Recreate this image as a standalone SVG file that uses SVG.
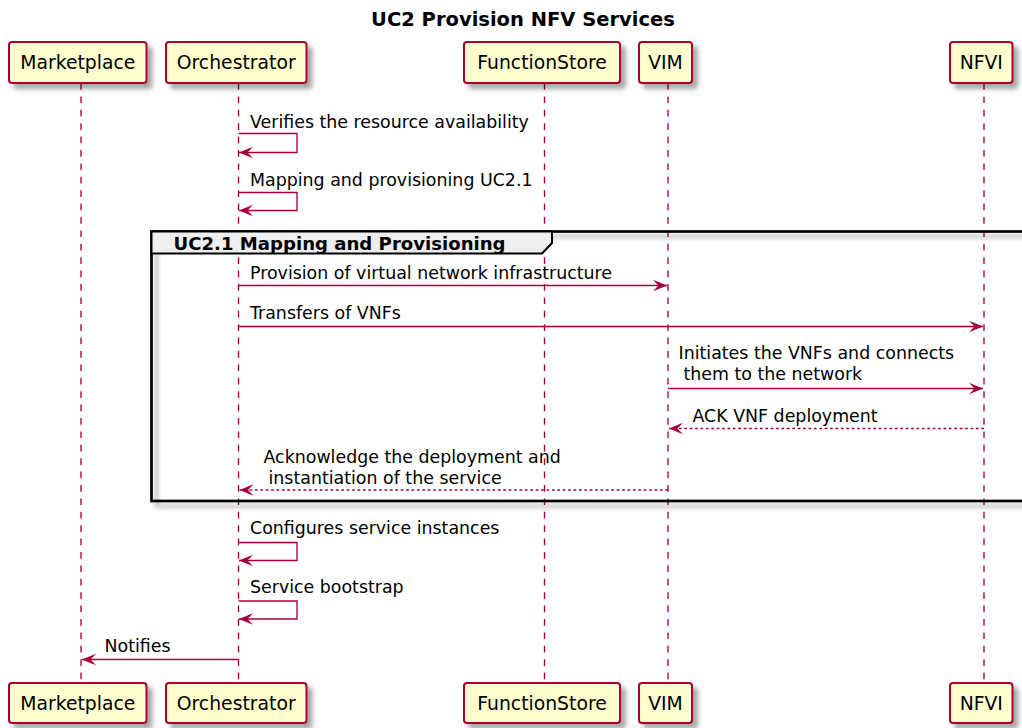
<svg xmlns="http://www.w3.org/2000/svg" width="1022" height="728" viewBox="0 0 1022 728">
<style>
text{font-family:"DejaVu Sans","Liberation Sans",sans-serif;fill:#000}
.msg{font-size:17.4px}
.pt{font-size:18.8px;text-anchor:middle}
.title{font-size:19.5px;font-weight:bold;text-anchor:middle}
.gt{font-size:18.1px;font-weight:bold}
.box{fill:#FEFECE;stroke:#A80036;stroke-width:2}
.life{stroke:#A80036;stroke-width:1.34;stroke-dasharray:6.7,6.7;fill:none}
.arr{stroke:#A80036;stroke-width:1.34;fill:none;marker-end:url(#ah)}
.dash{stroke-dasharray:2.7,2.7}
</style>
<defs>
<filter id="sh" x="-20%" y="-20%" width="150%" height="160%">
<feGaussianBlur in="SourceAlpha" stdDeviation="2.7"/>
<feOffset dx="5" dy="5" result="b"/>
<feComponentTransfer><feFuncA type="linear" slope="0.35"/></feComponentTransfer>
<feMerge><feMergeNode/><feMergeNode in="SourceGraphic"/></feMerge>
</filter>
<marker id="ah" viewBox="-15 -7 16 14" refX="0" refY="0" markerWidth="16" markerHeight="14" markerUnits="userSpaceOnUse" orient="auto">
<path d="M0,0 L-14,-5.8 L-8.5,0 L-14,5.8 Z" fill="#A80036"/>
</marker>
</defs>
<rect width="1022" height="728" fill="#fff"/>
<text class="title" x="523" y="26">UC2 Provision NFV Services</text>

<g id="lifelines">
<line class="life" x1="81" y1="83" x2="81" y2="683"/>
<line class="life" x1="238.5" y1="83" x2="238.5" y2="683"/>
<line class="life" x1="544.5" y1="83" x2="544.5" y2="683"/>
<line class="life" x1="668" y1="83" x2="668" y2="683"/>
<line class="life" x1="984" y1="83" x2="984" y2="683"/>
</g>

<g id="group-uc21">
<rect x="151.5" y="231.5" width="880" height="269.5" fill="none" stroke="#000" stroke-width="2.7" filter="url(#sh)"/>
<path d="M151.5,231.5 L552,231.5 L552,243 L542,253.5 L151.5,253.5 Z" fill="#EEEEEE" stroke="#000" stroke-width="2"/>
<text class="gt" x="173.5" y="249.5">UC2.1 Mapping and Provisioning</text>
</g>

<g id="p-marketplace">
<rect class="box" x="9" y="42" width="137.5" height="41" rx="3" filter="url(#sh)"/>
<text class="pt" x="77.8" y="69">Marketplace</text>
<rect class="box" x="9" y="683" width="137.5" height="40" rx="3" filter="url(#sh)"/>
<text class="pt" x="77.8" y="710">Marketplace</text>
</g>
<g id="p-orchestrator">
<rect class="box" x="166" y="42" width="140.5" height="41" rx="3" filter="url(#sh)"/>
<text class="pt" x="236.2" y="69">Orchestrator</text>
<rect class="box" x="166" y="683" width="140.5" height="40" rx="3" filter="url(#sh)"/>
<text class="pt" x="236.2" y="710">Orchestrator</text>
</g>
<g id="p-functionstore">
<rect class="box" x="464" y="42" width="156" height="41" rx="3" filter="url(#sh)"/>
<text class="pt" x="542" y="69">FunctionStore</text>
<rect class="box" x="464" y="683" width="156" height="40" rx="3" filter="url(#sh)"/>
<text class="pt" x="542" y="710">FunctionStore</text>
</g>
<g id="p-vim">
<rect class="box" x="639" y="42" width="53" height="41" rx="3" filter="url(#sh)"/>
<text class="pt" x="665.5" y="69">VIM</text>
<rect class="box" x="639" y="683" width="53" height="40" rx="3" filter="url(#sh)"/>
<text class="pt" x="665.5" y="710">VIM</text>
</g>
<g id="p-nfvi">
<rect class="box" x="950" y="42" width="62.5" height="41" rx="3" filter="url(#sh)"/>
<text class="pt" x="981.3" y="69">NFVI</text>
<rect class="box" x="950" y="683" width="62.5" height="40" rx="3" filter="url(#sh)"/>
<text class="pt" x="981.3" y="710">NFVI</text>
</g>

<g id="connectors">
<polyline class="arr" points="238.5,133.5 297,133.5 297,152.5 239,152.5"/>
<text class="msg" x="250" y="127.5">Verifies the resource availability</text>
<polyline class="arr" points="238.5,192.5 297,192.5 297,210.5 239,210.5"/>
<text class="msg" x="250" y="186">Mapping and provisioning UC2.1</text>
<line class="arr" x1="238.5" y1="285.5" x2="667" y2="285.5"/>
<text class="msg" x="250" y="278.5">Provision of virtual network infrastructure</text>
<line class="arr" x1="238.5" y1="326.5" x2="983" y2="326.5"/>
<text class="msg" x="250" y="319">Transfers of VNFs</text>
<line class="arr" x1="668" y1="388.5" x2="983" y2="388.5"/>
<text class="msg" x="678.5" y="358.5">Initiates the VNFs and connects</text>
<text class="msg" x="683.5" y="380">them to the network</text>
<line class="arr dash" x1="984" y1="428.5" x2="669" y2="428.5"/>
<text class="msg" x="692.5" y="421.5">ACK VNF deployment</text>
<line class="arr dash" x1="668" y1="490" x2="239.5" y2="490"/>
<text class="msg" x="263.5" y="463">Acknowledge the deployment and</text>
<text class="msg" x="268.5" y="483.5">instantiation of the service</text>
<polyline class="arr" points="238.5,542.5 297,542.5 297,560.5 239,560.5"/>
<text class="msg" x="250" y="534">Configures service instances</text>
<polyline class="arr" points="238.5,601 297,601 297,619 239,619"/>
<text class="msg" x="250" y="593">Service bootstrap</text>
<line class="arr" x1="238.5" y1="659.5" x2="82" y2="659.5"/>
<text class="msg" x="104.5" y="651.5">Notifies</text>
</g>
</svg>
